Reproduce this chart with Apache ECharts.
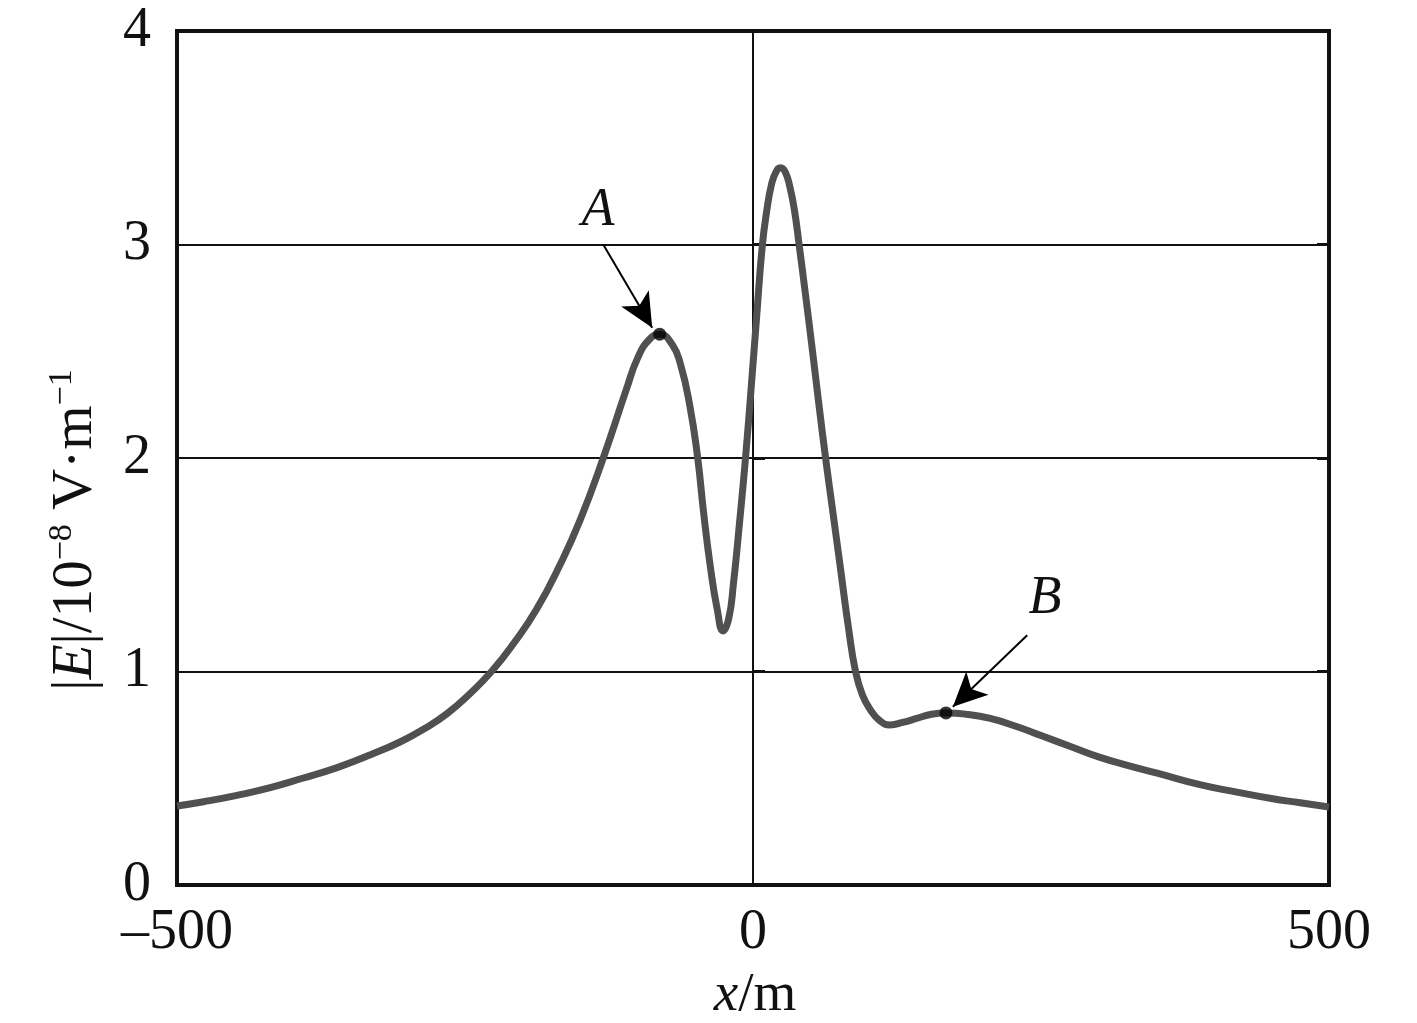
<!DOCTYPE html>
<html>
<head>
<meta charset="utf-8">
<script src="https://cdn.jsdelivr.net/npm/echarts@6/dist/echarts.min.js"></script>
<style>
html,body{margin:0;padding:0;background:#fff;}
#chart{width:1417px;height:1023px;}
</style>
</head>
<body>
<div id="chart"></div>
<script>
// x positions (m)
var xValues = [-500,-477,-448,-419,-391,-361,-332,-306,-285,-265,-246,-227,-208,-188,-167.5,-150,-130,-110,-100,-90,-81,-70,-63,-55,-48,-43,-37,-31,-26,-21,-17,-12,-6.5,-1,3,8,12,16,20,24,28,32,36,40,45,51,57,63,69,76,83,89,95,102,110,119,130,142,155,167.5,185,206,230,250,275,300,325,350,388,420,450,475,500];
// |E| (10^-8 V/m)
var eValues = [0.37,0.39,0.42,0.456,0.50,0.55,0.61,0.671,0.733,0.805,0.895,1.0,1.13,1.29,1.50,1.71,2.0,2.32,2.47,2.555,2.58,2.53,2.44,2.25,2.0,1.75,1.49,1.29,1.19,1.25,1.41,1.68,2.0,2.37,2.65,2.99,3.16,3.28,3.34,3.36,3.34,3.27,3.16,3.0,2.79,2.53,2.26,2.0,1.76,1.48,1.20,1.0,0.89,0.82,0.77,0.75,0.762,0.78,0.80,0.806,0.80,0.78,0.74,0.70,0.65,0.60,0.56,0.525,0.47,0.435,0.405,0.385,0.365];
// annotated points
var pointNames = ['A','B'];
var pointX = [-81, 167.5];
var pointY = [2.58, 0.806];
// annotation label positions and arrow starts/ends (data units)
var labelX = [-134.5, 253.5];
var labelY = [3.16, 1.34];
var arrowFromX = [-130, 238];
var arrowFromY = [3.0, 1.17];
var arrowToX = [-87.5, 173.5];
var arrowToY = [2.61, 0.835];
// axis ticks
var xTicks = [-500, 0, 500];
var yTicks = [0, 1, 2, 3, 4];

var FONT = 'Liberation Serif';
var chart = echarts.init(document.getElementById('chart'));

var lineData = xValues.map(function(x, i){ return [x, eValues[i]]; });
var dotData = pointX.map(function(x, i){ return [x, pointY[i]]; });
var arrows = pointNames.map(function(n, i){
  return [
    {coord:[arrowFromX[i], arrowFromY[i]], symbol:'none'},
    {coord:[arrowToX[i], arrowToY[i]], symbol:'arrow'}
  ];
});
var labels = pointNames.map(function(n, i){
  return {coord:[labelX[i], labelY[i]], name:n, value:n};
});

var axisLabelStyle = {fontFamily: FONT, fontSize: 56, color: '#111'};

chart.setOption({
  animation: false,
  backgroundColor: '#fff',
  grid: {left: 177, right: 88, top: 31, bottom: 138, show: true, borderColor: '#111', borderWidth: 4, backgroundColor: 'transparent'},
  xAxis: [{
    type: 'value', min: -500, max: 500, interval: 500,
    axisLine: {show: false},
    axisTick: {show: true, inside: true, length: 10, lineStyle: {color: '#111', width: 2}},
    splitLine: {show: true, lineStyle: {color: '#111', width: 2}},
    axisLabel: Object.assign({margin: 20, formatter: function(v){ return v < 0 ? '\u2013' + Math.abs(v) : String(v); }}, axisLabelStyle)
  }],
  yAxis: [{
    type: 'value', min: 0, max: 4, interval: 1,
    axisLine: {show: false},
    axisTick: {show: true, inside: true, length: 12, lineStyle: {color: '#111', width: 3}},
    splitLine: {show: true, lineStyle: {color: '#111', width: 2}},
    axisLabel: Object.assign({margin: 26}, axisLabelStyle)
  }, {
    type: 'value', min: 0, max: 4, interval: 1, position: 'right',
    axisLine: {show: false},
    axisTick: {show: true, inside: true, length: 12, lineStyle: {color: '#111', width: 3}},
    splitLine: {show: false},
    axisLabel: {show: false}
  }],
  series: [{
    type: 'line',
    data: lineData,
    showSymbol: false,
    smooth: 0.5,
    lineStyle: {color: '#505050', width: 7},
    z: 3,
    markLine: {
      silent: true,
      symbolSize: [24, 34],
      lineStyle: {color: '#000', width: 2, type: 'solid'},
      label: {show: false},
      data: arrows
    },
    markPoint: {
      silent: true,
      symbol: 'circle',
      symbolSize: 1,
      itemStyle: {color: 'rgba(0,0,0,0)'},
      label: {show: true, position: 'inside', formatter: '{b}', fontFamily: FONT, fontStyle: 'italic', fontSize: 54, color: '#111'},
      data: labels
    }
  }, {
    type: 'scatter',
    data: dotData,
    symbol: 'circle',
    symbolSize: 13,
    itemStyle: {color: '#000'},
    z: 4
  }],
  graphic: [{
    type: 'text',
    x: 755, y: 996,
    style: {
      text: '{i|x}/m',
      fontFamily: FONT, fontSize: 55, fill: '#111',
      textAlign: 'center', textVerticalAlign: 'middle',
      rich: {i: {fontStyle: 'italic', fontFamily: FONT, fontSize: 55}}
    }
  }, {
    type: 'text',
    x: 76, y: 530,
    rotation: Math.PI / 2,
    style: {
      text: '|{i|E}|/10{s|\u22128} V\u00b7m{s|\u22121}',
      fontFamily: FONT, fontSize: 57, fill: '#111',
      textAlign: 'center', textVerticalAlign: 'middle',
      rich: {
        i: {fontStyle: 'italic', fontFamily: FONT, fontSize: 57},
        s: {fontFamily: FONT, fontSize: 34, padding: [0, 0, 28, 0]}
      }
    }
  }]
});
</script>
</body>
</html>
